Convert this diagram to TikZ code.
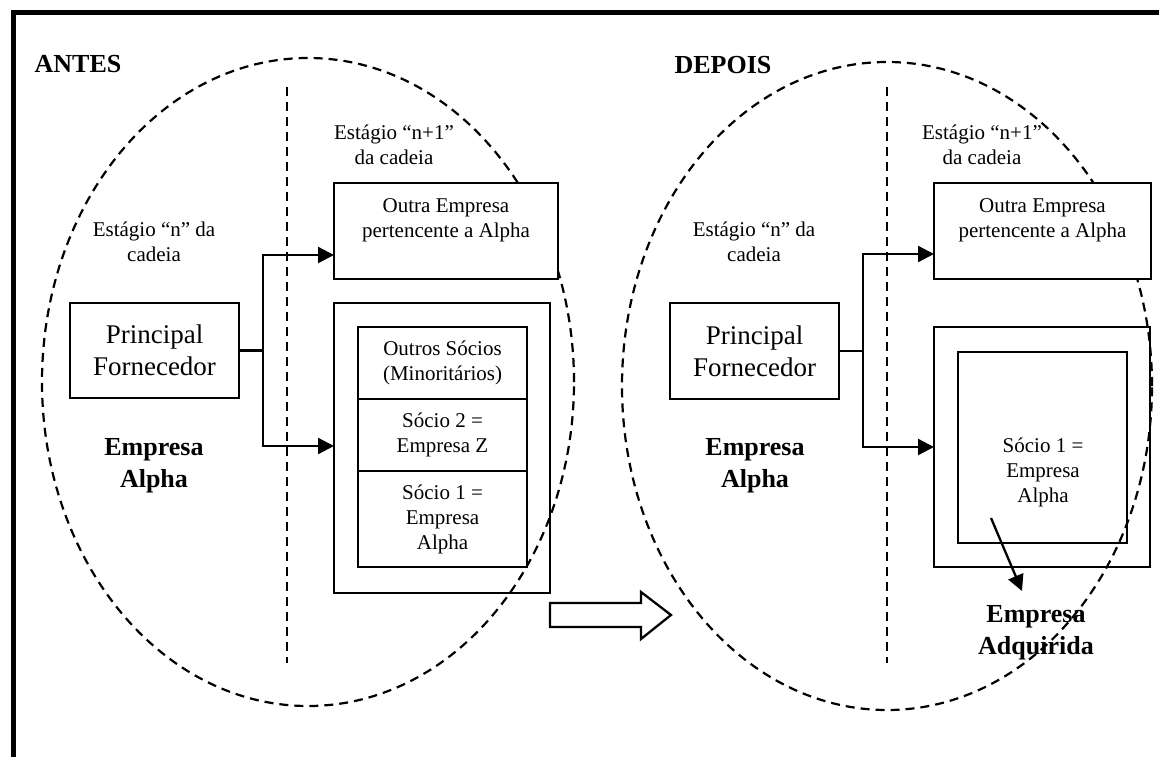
\documentclass[tikz,border=0pt]{standalone}
\usepackage{fontspec}
\setmainfont{Liberation Serif}
\usetikzlibrary{arrows.meta}
\begin{document}
\begin{tikzpicture}[x=1pt,y=-1pt, line width=2.3pt,
  sm/.style={font=\fontsize{21}{25}\selectfont, align=center, inner sep=0pt},
  lg/.style={font=\fontsize{27}{32}\selectfont, align=center, inner sep=0pt},
  bd/.style={font=\fontsize{26}{32}\selectfont\bfseries, align=center, inner sep=0pt},
  box/.style={draw, line width=2.3pt, inner sep=0pt},
  dsh/.style={dash pattern=on 9pt off 6pt, line width=2.2pt},
  arr/.style={-{Triangle[length=16pt,width=16pt]}, line width=2.3pt}]
\useasboundingbox (0,0) rectangle (1159,757);
\clip (0,0) rectangle (1159,757);
% frame
\draw[line width=5pt] (13,760) -- (13,13) -- (1162,13);
% ellipses and stage separators
\draw[dsh] (308,382) ellipse [x radius=266pt, y radius=324pt];
\draw[dsh] (887,386) ellipse [x radius=265pt, y radius=324pt];
\draw[dsh] (287,87) -- (287,663);
\draw[dsh] (887,87) -- (887,663);
% titles
\node[bd] (antes) at (78,64) {ANTES};
\node[bd] (depois) at (723,65) {DEPOIS};
% ===== ANTES =====
\node[sm] (snL) at (154,242) {Estágio “n” da\\cadeia};
\node[sm] (sn1L) at (394,145) {Estágio “n+1”\\da cadeia};
\node[box, lg, minimum width=169pt, minimum height=95pt] (pfL) at (154.5,350.5) {Principal\\Fornecedor};
\node[bd] (eaL) at (154,466) {Empresa\\Alpha};
\node[box, fill=white, minimum width=224pt, minimum height=96pt] (oeL) at (446,231) {};
\node[sm] (oeLt) at (446,220) {Outra Empresa\\pertencente a Alpha};
\node[box, minimum width=216pt, minimum height=290pt] (obL) at (442,448) {};
\node[box, sm, minimum width=169pt, minimum height=72pt] (s3L) at (442.5,363) {Outros Sócios\\(Minoritários)};
\node[box, sm, minimum width=169pt, minimum height=72pt] (s2L) at (442.5,435) {Sócio 2 =\\Empresa Z};
\node[box, sm, minimum width=169pt, minimum height=96pt] (s1L) at (442.5,519) {Sócio 1 =\\Empresa\\Alpha};
\coordinate (jL) at (263,350.5);
\coordinate (tL) at (334,255);
\coordinate (bL) at (334,446);
\draw (pfL.east) -- (jL);
\draw[arr] (jL) |- (tL);
\draw[arr] (jL) |- (bL);
% big hollow arrow
\draw[line width=2.3pt, line join=miter] (550,603) -- (641,603) -- (641,592) -- (671,615) -- (641,639) -- (641,627) -- (550,627) -- cycle;
% ===== DEPOIS =====
\node[sm] (snR) at (754,242) {Estágio “n” da\\cadeia};
\node[sm] (sn1R) at (982,145) {Estágio “n+1”\\da cadeia};
\node[box, lg, minimum width=169pt, minimum height=96pt] (pfR) at (754.5,351) {Principal\\Fornecedor};
\node[bd] (eaR) at (755,466) {Empresa\\Alpha};
\node[box, fill=white, minimum width=217pt, minimum height=96pt] (oeR) at (1042.5,231) {};
\node[sm] (oeRt) at (1042.5,220) {Outra Empresa\\pertencente a Alpha};
\node[box, minimum width=216pt, minimum height=240pt] (obR) at (1042,447) {};
\node[box, minimum width=169pt, minimum height=191pt] (s1R) at (1042.5,447.5) {};
\node[sm] (s1Rt) at (1043,472) {Sócio 1 =\\Empresa\\Alpha};
\coordinate (jR) at (863,351);
\coordinate (tR) at (934,254);
\coordinate (bR) at (934,447);
\draw (pfR.east) -- (jR);
\draw[arr] (jR) |- (tR);
\draw[arr] (jR) |- (bR);
\coordinate (aS) at (991,518);
\coordinate (aE) at (1022,591);
\draw[arr] (aS) -- (aE);
\node[bd] (adq) at (1036,633) {Empresa\\Adquirida};
\end{tikzpicture}
\end{document}
